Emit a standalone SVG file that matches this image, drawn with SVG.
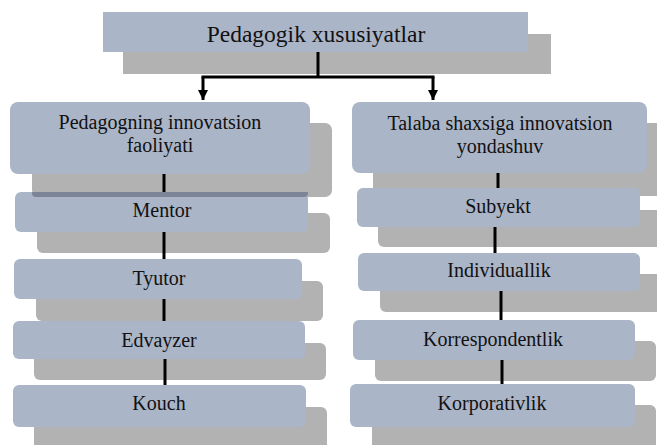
<svg xmlns="http://www.w3.org/2000/svg" width="657" height="445" viewBox="0 0 657 445">
<defs>
<style>
.sh{fill:#b2b2b2}
.bx{fill:#abb5c8}
.t{font-family:'Liberation Serif','Times New Roman',serif;font-size:20px;fill:#111;text-anchor:middle}
.tt{font-size:23.5px}
.ln{stroke:#000;stroke-width:3;fill:none}
</style>
<marker id="ah" viewBox="0 0 10 10" refX="10" refY="5" markerWidth="10" markerHeight="10" markerUnits="userSpaceOnUse" orient="auto">
<path d="M0,0 L10,5 L0,10 Z" fill="#000"/>
</marker>
</defs>
<rect width="657" height="445" fill="#fff"/>
<g id="n-title">
<rect class="sh" x="123" y="34" width="428" height="40"/>
<rect class="bx" x="103" y="12" width="425" height="40"/>
<text class="t tt" x="316" y="42" font-family="Liberation Serif">Pedagogik xususiyatlar</text>
</g>
<g id="n-pedagog">
<rect class="sh" x="32" y="123" width="300" height="74" rx="7"/>
<rect class="bx" x="10" y="102" width="300" height="72" rx="8"/>
<text class="t" x="160" y="129" font-family="Liberation Serif">Pedagogning innovatsion</text>
<text class="t" x="160" y="152" font-family="Liberation Serif">faoliyati</text>
</g>
<g id="n-talaba">
<rect class="sh" x="373" y="123" width="300" height="73" rx="7"/>
<rect class="bx" x="352" y="102" width="295" height="71" rx="8"/>
<text class="t" x="500" y="130" font-family="Liberation Serif">Talaba shaxsiga innovatsion</text>
<text class="t" x="500" y="153" font-family="Liberation Serif">yondashuv</text>
</g>
<g id="n-mentor">
<rect class="sh" x="37" y="213" width="293" height="40" rx="6"/>
<rect class="bx" x="15" y="192" width="293" height="40" rx="6"/>
<path d="M32,192 H308 V193 Q308,197 304,197 H36 Q32,197 32,193 Z" fill="#7b8596"/>
<text class="t" x="162" y="217" font-family="Liberation Serif">Mentor</text>
</g>
<g id="n-tyutor">
<rect class="sh" x="36" y="281" width="287" height="40" rx="6"/>
<rect class="bx" x="14" y="259" width="288" height="40" rx="6"/>
<text class="t" x="159" y="285" font-family="Liberation Serif">Tyutor</text>
</g>
<g id="n-edvayzer">
<rect class="sh" x="34" y="343" width="292" height="37" rx="6"/>
<rect class="bx" x="13" y="321" width="292" height="38" rx="6"/>
<text class="t" x="159" y="347" font-family="Liberation Serif">Edvayzer</text>
</g>
<g id="n-kouch">
<rect class="sh" x="34" y="407" width="293" height="50" rx="6"/>
<rect class="bx" x="13" y="385" width="293" height="42" rx="6"/>
<text class="t" x="159" y="410" font-family="Liberation Serif">Kouch</text>
</g>
<g id="n-subyekt">
<rect class="sh" x="378" y="210" width="300" height="37" rx="6"/>
<rect class="bx" x="357" y="188" width="283" height="39" rx="6"/>
<text class="t" x="498" y="213" font-family="Liberation Serif">Subyekt</text>
</g>
<g id="n-individuallik">
<rect class="sh" x="380" y="274" width="300" height="38" rx="6"/>
<rect class="bx" x="358" y="253" width="282" height="38" rx="6"/>
<text class="t" x="499" y="277" font-family="Liberation Serif">Individuallik</text>
</g>
<g id="n-korrespondentlik">
<rect class="sh" x="375" y="341" width="281" height="40" rx="6"/>
<rect class="bx" x="353" y="320" width="282" height="40" rx="6"/>
<text class="t" x="493" y="346" font-family="Liberation Serif">Korrespondentlik</text>
</g>
<g id="n-korporativlik">
<rect class="sh" x="372" y="405" width="284" height="50" rx="6"/>
<rect class="bx" x="350" y="384" width="285" height="43" rx="6"/>
<text class="t" x="492" y="410" font-family="Liberation Serif">Korporativlik</text>
</g>
<g id="connectors">
<path class="ln" d="M318,52 V77"/>
<path class="ln" d="M201.5,77 H434.5"/>
<path class="ln" d="M203,77 V100" marker-end="url(#ah)"/>
<path class="ln" d="M433,77 V100" marker-end="url(#ah)"/>
<path class="ln" d="M164,174 V192"/>
<path class="ln" d="M164,232 V259"/>
<path class="ln" d="M164,299 V321"/>
<path class="ln" d="M165,359 V385"/>
<path class="ln" d="M498,173 V188"/>
<path class="ln" d="M495,227 V253"/>
<path class="ln" d="M501,291 V320"/>
<path class="ln" d="M502,360 V384"/>
</g>
</svg>
